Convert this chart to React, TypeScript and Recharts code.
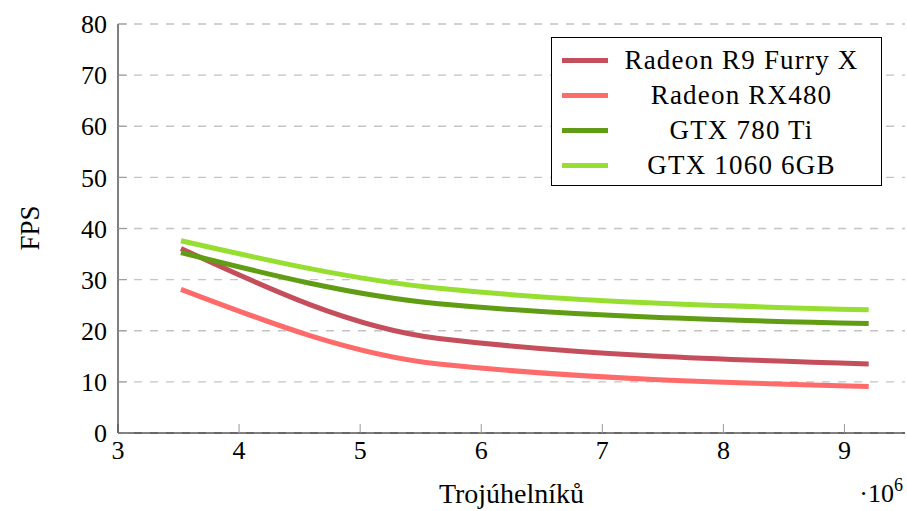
import { CartesianGrid, Line, LineChart, XAxis, YAxis } from 'recharts'

// scene size in millions of triangles
const triangles = [3.52, 5.65, 9.2]
const furyX = [36.1, 18.5, 13.5]
const rx480 = [28.1, 13.5, 9.1]
const gtx780Ti = [35.3, 25.3, 21.4]
const gtx1060 = [37.6, 28.3, 24.1]

const seriesKeys = ['furyX', 'rx480', 'gtx780Ti', 'gtx1060']
const seriesNames = ['Radeon R9 Furry X', 'Radeon RX480', 'GTX 780 Ti', 'GTX 1060 6GB']
const seriesColors = ['#c44e5b', '#ff6b6b', '#609c14', '#96df30']

const xTicks = [3, 4, 5, 6, 7, 8, 9]
const yTicks = [0, 10, 20, 30, 40, 50, 60, 70, 80]

const chartData = triangles.map((t, i) => ({
  t,
  furyX: furyX[i],
  rx480: rx480[i],
  gtx780Ti: gtx780Ti[i],
  gtx1060: gtx1060[i],
}))

const font = '"Liberation Serif", "Times New Roman", serif'
const tickStyle = { fill: '#000', fontSize: 26, fontFamily: font }
const tickLineStyle = { stroke: '#999', strokeWidth: 1 }
const axisLineStyle = { stroke: '#000', strokeWidth: 1 }

function ChartLegend() {
  return (
    <div
      style={{
        position: 'absolute',
        left: 551,
        top: 37,
        width: 331,
        height: 149,
        boxSizing: 'border-box',
        border: '1px solid #000',
        background: '#fff',
        paddingTop: 5,
        fontFamily: font,
        fontSize: 27,
        letterSpacing: 1.2,
      }}
    >
      {seriesNames.map((name, i) => (
        <div key={name} style={{ display: 'flex', alignItems: 'center', height: 35 }}>
          <div style={{ marginLeft: 10, width: 46, height: 5, background: seriesColors[i] }} />
          <div style={{ flex: 1, textAlign: 'center', paddingRight: 6, lineHeight: '35px' }}>{name}</div>
        </div>
      ))}
    </div>
  )
}

export default function App() {
  return (
    <div style={{ position: 'absolute', left: 0, top: 0, width: 907, height: 511, background: '#fff' }}>
      <LineChart width={907} height={511} data={chartData} margin={{ top: 24, right: 2, bottom: 0, left: 0 }}>
        <CartesianGrid vertical={false} stroke="#c4c4c4" strokeWidth={1.3} strokeDasharray="8 8" />
        <XAxis
          dataKey="t"
          type="number"
          domain={[3, 9.5]}
          ticks={xTicks}
          height={78}
          tickSize={-9}
          tickMargin={17}
          tick={tickStyle}
          tickLine={tickLineStyle}
          axisLine={axisLineStyle}
          label={{ value: 'Trojúhelníků', position: 'insideBottom', offset: 8, fill: '#000', fontSize: 28, fontFamily: font }}
        />
        <XAxis
          xAxisId="top"
          orientation="top"
          dataKey="t"
          type="number"
          domain={[3, 9.5]}
          ticks={xTicks}
          height={0}
          tickSize={-9}
          tickFormatter={() => ''}
          tickLine={tickLineStyle}
          axisLine={axisLineStyle}
        />
        <YAxis
          type="number"
          domain={[0, 80]}
          ticks={yTicks}
          width={118}
          tickSize={-9}
          tickMargin={20}
          tick={tickStyle}
          tickLine={tickLineStyle}
          axisLine={axisLineStyle}
        />
        <YAxis
          yAxisId="right"
          orientation="right"
          type="number"
          domain={[0, 80]}
          ticks={yTicks}
          width={0}
          tickSize={-9}
          tickFormatter={() => ''}
          tickLine={tickLineStyle}
          axisLine={axisLineStyle}
        />
        {seriesKeys.map((key, i) => (
          <Line
            key={key}
            type="monotone"
            dataKey={key}
            name={seriesNames[i]}
            stroke={seriesColors[i]}
            strokeWidth={5}
            dot={false}
            activeDot={false}
            isAnimationActive={false}
          />
        ))}
      </LineChart>
      <div
        style={{
          position: 'absolute',
          left: 30,
          top: 228,
          transform: 'translate(-50%, -50%) rotate(-90deg)',
          fontFamily: font,
          fontSize: 27,
          whiteSpace: 'nowrap',
        }}
      >
        FPS
      </div>
      <div
        style={{
          position: 'absolute',
          right: 4,
          top: 479,
          fontFamily: font,
          fontSize: 26,
          whiteSpace: 'nowrap',
        }}
      >
        ·10<sup style={{ fontSize: 18, verticalAlign: 'top', position: 'relative', top: -4 }}>6</sup>
      </div>
      <ChartLegend />
    </div>
  )
}
